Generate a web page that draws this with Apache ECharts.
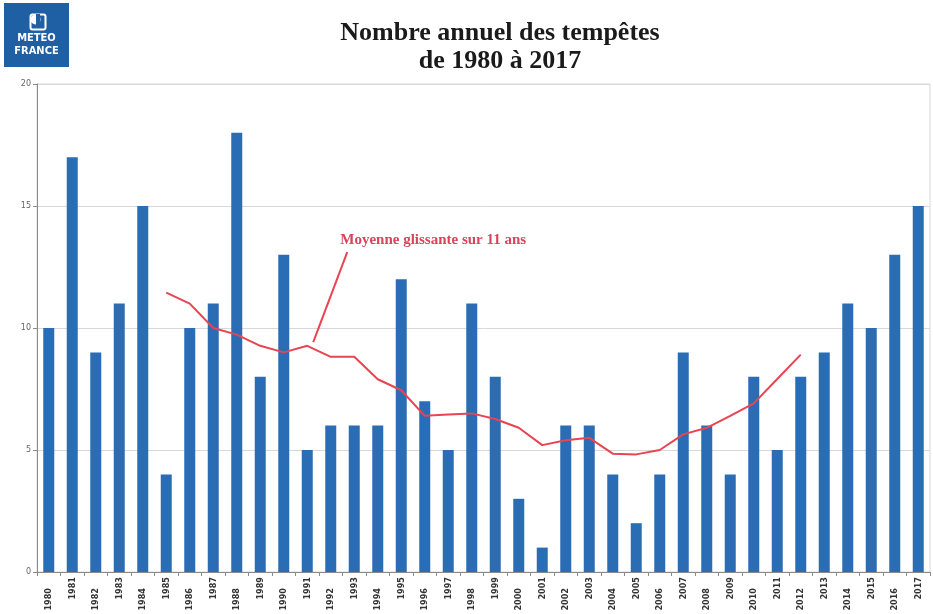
<!DOCTYPE html>
<html>
<head>
<meta charset="utf-8">
<script src="https://cdn.jsdelivr.net/npm/echarts@6/dist/echarts.min.js"></script>
<style>
html,body{margin:0;padding:0;background:#fff;}
#c{width:933px;height:614px;}
</style>
</head>
<body>
<div id="c"></div>
<script>
var years = ['1980','1981','1982','1983','1984','1985','1986','1987','1988','1989','1990','1991','1992','1993','1994','1995','1996','1997','1998','1999','2000','2001','2002','2003','2004','2005','2006','2007','2008','2009','2010','2011','2012','2013','2014','2015','2016','2017'];
var storms = [10,17,9,11,15,4,10,11,18,8,13,5,6,6,6,12,7,5,11,8,3,1,6,6,4,2,4,9,6,4,8,5,8,9,11,10,13,15];
var movingAvg = [null,null,null,null,null,11.45,11.0,10.0,9.73,9.27,9.0,9.27,8.82,8.82,7.9,7.45,6.4,6.45,6.5,6.27,5.91,5.2,5.4,5.5,4.85,4.82,5.0,5.64,5.91,6.4,6.91,7.91,8.91,null,null,null,null,null];
var yTicks = [0,5,10,15,20];
var titleLines = ['Nombre annuel des tempêtes','de 1980 à 2017'];
var annotationText = 'Moyenne glissante sur 11 ans';

var chart = echarts.init(document.getElementById('c'), null, {renderer:'canvas'});
var option = {
  animation:false,
  backgroundColor:'#fff',
  title:{
    text: titleLines.join('\n'),
    left: 495, top: 14, textAlign:'center',
    textStyle:{fontFamily:'Liberation Serif', fontWeight:'bold', fontSize:26, lineHeight:28, color:'#1a1a1a'}
  },
  grid:{left:37, right:3, top:84, bottom:42, show:true, borderColor:'#d8d8d8', borderWidth:1},
  xAxis:{
    type:'category', data:years, boundaryGap:true,
    axisLine:{lineStyle:{color:'#8a8a8a', width:1}},
    axisTick:{show:true, alignWithLabel:false, length:4, lineStyle:{color:'#8a8a8a'}},
    axisLabel:{
      interval:0, rotate:90, margin:5, fontSize:9, fontWeight:'bold', fontFamily:'DejaVu Sans Condensed, DejaVu Sans', color:'#333',
      formatter:function(v, i){ return (i % 2 === 0) ? '{b|' + v + '}' : '{a|' + v + '}'; },
      rich:{a:{fontSize:9, fontWeight:'bold', color:'#333'}, b:{fontSize:9, fontWeight:'bold', color:'#333', padding:[0,11,0,0]}}
    },
    splitLine:{show:false}
  },
  yAxis:{
    type:'value', min:yTicks[0], max:yTicks[yTicks.length-1], interval:5,
    axisLine:{show:true, lineStyle:{color:'#8a8a8a'}},
    axisTick:{show:true, length:4, lineStyle:{color:'#8a8a8a'}},
    axisLabel:{fontSize:8, color:'#666', margin:6, fontFamily:'DejaVu Sans'},
    splitLine:{show:true, lineStyle:{color:'#d8d8d8', width:1}}
  },
  series:[
    {type:'bar', data:storms, barWidth:11, itemStyle:{color:'#2b6db5'}, z:2},
    {type:'line', data:movingAvg, showSymbol:false, symbol:'none', connectNulls:false,
     lineStyle:{color:'#e84452', width:2}, z:3}
  ]
};
chart.setOption(option);

var anchor = chart.convertToPixel({seriesIndex:1}, ['1991', 9.3]);
chart.setOption({
  graphic:[
    {type:'rect', left:4, top:3, shape:{width:65, height:64}, style:{fill:'#1f5fa3'}},
    {type:'rect', left:28, top:12, shape:{width:15, height:15, r:2}, style:{fill:'none', stroke:'#fff', lineWidth:2}},
    {type:'circle', shape:{cx:35.5, cy:19.5, r:5}, style:{fill:'#fff'}},
    {type:'rect', left:36, top:14, shape:{width:4, height:11}, style:{fill:'#1f5fa3'}},
    {type:'text', x:36.5, y:33, style:{text:'METEO', fill:'#fff', font:'bold 11px "DejaVu Sans Condensed", "Liberation Sans"', textAlign:'center'}},
    {type:'text', x:36.5, y:46, style:{text:'FRANCE', fill:'#fff', font:'bold 11px "DejaVu Sans Condensed", "Liberation Sans"', textAlign:'center'}},
    {type:'line', shape:{x1:anchor[0]+6, y1:anchor[1]-3, x2:anchor[0]+40, y2:anchor[1]-93}, style:{stroke:'#e84452', lineWidth:2}},
    {type:'text', x:anchor[0]+33, y:anchor[1]-112, style:{text:annotationText, fill:'#d9435b', font:'bold 15px "Liberation Serif"'}}
  ]
});
</script>
</body>
</html>
